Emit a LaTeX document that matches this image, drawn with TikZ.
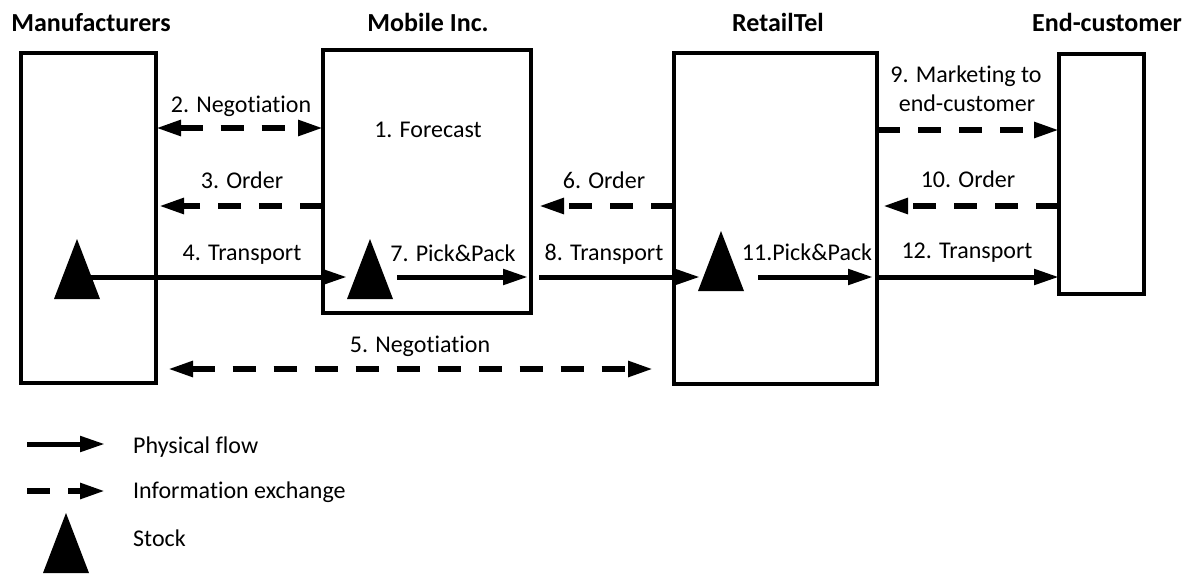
\documentclass[tikz,border=0pt]{standalone}
\usepackage{fontspec}
\setmainfont{Carlito}[Ligatures=NoCommon]
\usetikzlibrary{arrows.meta}
\begin{document}
\begin{tikzpicture}[x=1pt,y=-1pt,
  party/.style={draw, line width=4pt, inner sep=0pt, outer sep=0pt},
  heading/.style={font=\fontsize{26}{31}\selectfont\bfseries, anchor=base, inner sep=0pt},
  lbl/.style={font=\fontsize{24}{29}\selectfont, anchor=base, inner sep=0pt},
  legendtext/.style={font=\fontsize{24}{29}\selectfont, anchor=base west, inner sep=0pt},
  head/.tip={Triangle[length=25pt,width=15pt]},
  flow/.style={line width=5pt, -head},
  info/.style={line width=5.5pt, dash pattern=on 23pt off 18pt, -head},
  infoboth/.style={line width=5.5pt, dash pattern=on 23pt off 18pt, head-head},
  stock/.style={minimum width=46pt, minimum height=60pt, inner sep=0pt, outer sep=0pt,
    path picture={\fill[line join=round] (path picture bounding box.north)
      -- (path picture bounding box.south east)
      -- (path picture bounding box.south west) -- cycle;}}
]
\useasboundingbox (0,0) rectangle (1187,574);

% parties
\node[party, minimum width=135pt, minimum height=330pt] (manu) at (88.5,218) {};
\node[party, minimum width=208pt, minimum height=263pt] (mobile) at (427,181.5) {};
\node[party, minimum width=203pt, minimum height=331pt] (retail) at (775.5,218.5) {};
\node[party, minimum width=85pt, minimum height=240pt] (endc) at (1101.5,174) {};

% headings
\node[heading] (hmanu) at (91,31) {Manufacturers};
\node[heading] (hmobile) at (428,31) {Mobile Inc.};
\node[heading] (hretail) at (778,31) {RetailTel};
\node[heading] (hendc) at (1107,31) {End-customer};

% stocks
\node[stock] (smanu) at (77,269) {};
\node[stock] (smobile) at (370,269) {};
\node[stock] (sretail) at (721,261) {};

% flow rows
\coordinate (rneg) at (0,128);
\coordinate (rmkt) at (0,130);
\coordinate (rord) at (0,206);
\coordinate (rtr) at (0,277);
\coordinate (rneg5) at (0,369);

% information exchange
\draw[infoboth] (manu.east |- rneg) -- (mobile.west |- rneg);
\draw[info, shorten >=3pt] (mobile.west |- rord) -- (manu.east |- rord);
\draw[info, shorten >=8pt] (retail.west |- rord) -- (mobile.east |- rord);
\draw[info] (retail.east |- rmkt) -- (endc.west |- rmkt);
\draw[info, shorten >=6pt] (endc.west |- rord) -- (retail.east |- rord);
\draw[infoboth, shorten <=12pt, shorten >=21pt] (manu.east |- rneg5) -- (retail.west |- rneg5);

% physical flow
\draw[flow] (smanu.center |- rtr) -- (smobile.west |- rtr);
\draw[flow, shorten <=4pt, shorten >=3pt] (smobile.east |- rtr) -- (mobile.east |- rtr);
\draw[flow, shorten <=8pt, shorten >=-2pt] (mobile.east |- rtr) -- (sretail.west |- rtr);
\draw[flow, shorten <=14pt, shorten >=4pt] (sretail.east |- rtr) -- (retail.east |- rtr);
\draw[flow] (retail.east |- rtr) -- (endc.west |- rtr);

% labels
\node[lbl] (l1) at (428,137) {1. Forecast};
\node[lbl] (l2) at (241,112) {2. Negotiation};
\node[lbl] (l3) at (242,188) {3. Order};
\node[lbl] (l4) at (242,260) {4. Transport};
\node[lbl] (l5) at (420,352) {5. Negotiation};
\node[lbl] (l6) at (604,188) {6. Order};
\node[lbl] (l7) at (453,261) {7. Pick\&Pack};
\node[lbl] (l8) at (604,260) {8. Transport};
\node[lbl] (l9a) at (966,82) {9. Marketing to};
\node[lbl] (l9b) at (967,111) {end-customer};
\node[lbl] (l10) at (968,187) {10. Order};
\node[lbl] (l11) at (807,260) {11.Pick\&Pack};
\node[lbl] (l12) at (967,258) {12. Transport};

% legend
\coordinate (pfa) at (27,444);
\coordinate (pfb) at (105,444);
\coordinate (iea) at (27,491);
\coordinate (ieb) at (105,491);
\draw[flow] (pfa) -- (pfb);
\draw[info] (iea) -- (ieb);
\node[stock] (slegend) at (66,543) {};
\node[legendtext] (tpf) at (133,453) {Physical flow};
\node[legendtext] (tie) at (133,498) {Information exchange};
\node[legendtext] (tst) at (133,546) {Stock};
\end{tikzpicture}
\end{document}
